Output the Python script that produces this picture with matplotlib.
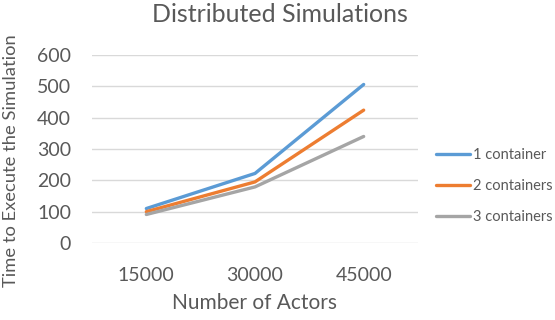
import matplotlib
matplotlib.use("Agg")
import matplotlib.pyplot as plt

categories = ["15000", "30000", "45000"]
series_names = ["1 container", "2 containers", "3 containers"]
one_container = [110, 222, 506]
two_containers = [100, 195, 424]
three_containers = [91, 179, 340]
yticks = [0, 100, 200, 300, 400, 500, 600]

colors = ["#5B9BD5", "#ED7D31", "#A5A5A5"]
text_color = "#595959"
plt.rcParams['font.family'] = ['Lato', 'DejaVu Sans']

fig = plt.figure(figsize=(5.55, 3.2), dpi=100)
ax = fig.add_axes([92/555, 1-243/320, 326/555, 188/320])

x = list(range(len(categories)))
for vals, name, c in zip([one_container, two_containers, three_containers], series_names, colors):
    ax.plot(x, vals, color=c, linewidth=2.4, label=name, solid_capstyle='round')

ax.set_xlim(-0.5, 2.5)
ax.set_ylim(0, 600)
ax.set_yticks(yticks)
ax.set_yticklabels([str(v) for v in yticks], fontsize=14, color=text_color)
ax.set_xticks(x)
ax.set_xticklabels(categories, fontsize=14, color=text_color)
ax.grid(axis='y', color='#D9D9D9', linewidth=1)
ax.set_axisbelow(True)
for s in ax.spines.values():
    s.set_visible(False)
ax.tick_params(length=0)
ax.tick_params(axis='y', pad=15)
ax.tick_params(axis='x', pad=17)

ax.set_xlabel("Number of Actors", fontsize=15, color=text_color, labelpad=7)
ax.set_ylabel("Time to Execute the Simulation", fontsize=13.2, color=text_color, labelpad=6)
ax.yaxis.set_label_coords(-(92-19)/326, (243-161)/188)
fig.text(280/555, 1-14/320, "Distributed Simulations", fontsize=18, color=text_color, ha='center', va='center')

leg = fig.legend(loc='center left', bbox_to_anchor=(436/555, 1-186/320), frameon=False,
                 fontsize=10.5, labelcolor=text_color, handlelength=2.33, handletextpad=0.2,
                 labelspacing=1.14, borderpad=0, borderaxespad=0)

fig.savefig("out.png", dpi=100)
